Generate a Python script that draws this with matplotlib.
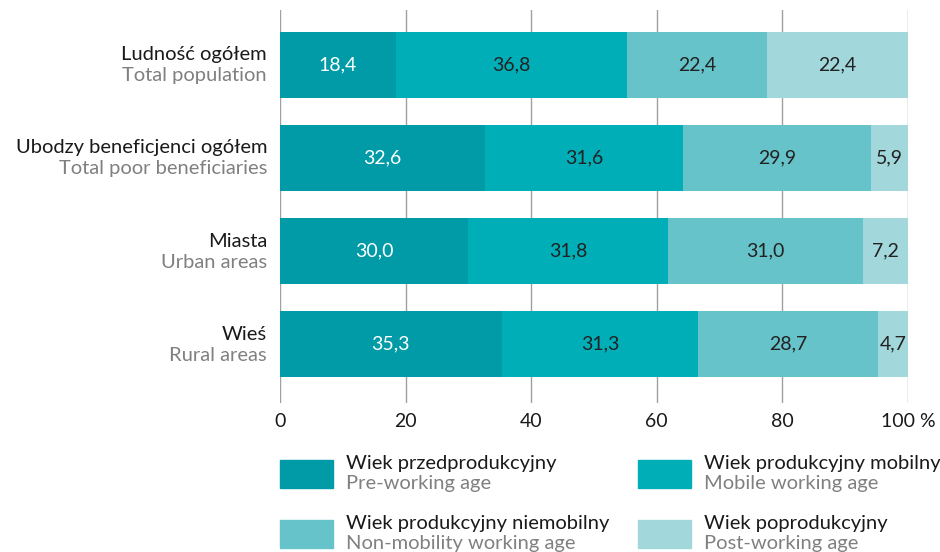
import matplotlib
matplotlib.use("Agg")
import matplotlib.pyplot as plt
from matplotlib.patches import Rectangle

plt.rcParams['font.family'] = ['Lato', 'DejaVu Sans']

cats_pl = ["Ludność ogółem", "Ubodzy beneficjenci ogółem", "Miasta", "Wieś"]
cats_en = ["Total population", "Total poor beneficiaries", "Urban areas", "Rural areas"]
pre_working = [18.4, 32.6, 30.0, 35.3]
mobile_working = [36.8, 31.6, 31.8, 31.3]
nonmobile_working = [22.4, 29.9, 31.0, 28.7]
post_working = [22.4, 5.9, 7.2, 4.7]
series_pl = ["Wiek przedprodukcyjny", "Wiek produkcyjny mobilny",
             "Wiek produkcyjny niemobilny", "Wiek poprodukcyjny"]
series_en = ["Pre-working age", "Mobile working age",
             "Non-mobility working age", "Post-working age"]
xticks = [0, 20, 40, 60, 80, 100]
xticklabels = ["0", "20", "40", "60", "80", "100 %"]

colors = ["#009BA6", "#00AEB8", "#66C3C9", "#A2D7DB"]
txt_colors = ["white", "#222222", "#222222", "#222222"]
DARK = "#1a1a1a"
GRAY = "#808080"
FS = 14.5

fig = plt.figure(figsize=(9.4, 5.52), dpi=100)
ax = fig.add_axes([280/940, 1-403/552, 628/940, 393/552])

series = [pre_working, mobile_working, nonmobile_working, post_working]
ypos = list(range(len(cats_pl)))
left = [0.0]*len(ypos)
for s, c, tc in zip(series, colors, txt_colors):
    ax.barh(ypos, s, left=left, height=0.71, color=c, zorder=2)
    for y, v, l in zip(ypos, s, left):
        ax.text(l + v/2, y, f"{v:.1f}".replace(".", ","), ha="center", va="center",
                color=tc, fontsize=14, zorder=3)
    left = [a+b for a, b in zip(left, s)]

ax.set_xlim(0, 100)
ax.set_ylim(3 + 0.634, -0.591)
for x in xticks:
    ax.axvline(x, color="#a0a0a0", lw=1.0, zorder=1)
for sp in ax.spines.values():
    sp.set_visible(False)
ax.set_yticks([])
ax.set_xticks(xticks)
ax.set_xticklabels(xticklabels, fontsize=14, color=DARK)
ax.tick_params(axis="x", length=0, pad=7)

for y, pl, en in zip(ypos, cats_pl, cats_en):
    ax.annotate(pl, xy=(0, y), xycoords=("axes fraction", "data"), xytext=(-13, 10),
                textcoords="offset pixels", ha="right", va="center", fontsize=FS, color=DARK)
    ax.annotate(en, xy=(0, y), xycoords=("axes fraction", "data"), xytext=(-13, -11),
                textcoords="offset pixels", ha="right", va="center", fontsize=FS, color=GRAY)

# legend
pos = [(280, 460), (638, 460), (280, 520), (638, 520)]
W, H = 940, 552
for (px, py), c, pl, en in zip(pos, colors, series_pl, series_en):
    fig.patches.append(Rectangle((px/W, 1-(py+28)/H), 53/W, 28/H, color=c,
                                 transform=fig.transFigure, figure=fig))
    fig.text((px+66)/W, 1-(py+3)/H, pl, fontsize=FS, color=DARK, va="center", ha="left")
    fig.text((px+66)/W, 1-(py+24)/H, en, fontsize=FS, color=GRAY, va="center", ha="left")

fig.savefig("out.png", dpi=100)
